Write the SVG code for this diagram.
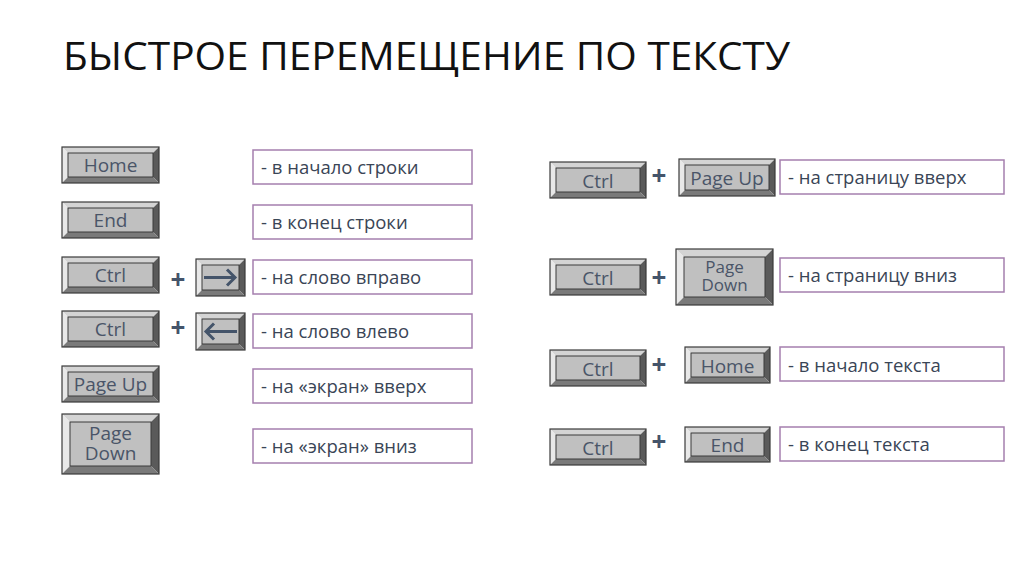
<svg xmlns="http://www.w3.org/2000/svg" width="1024" height="574" viewBox="0 0 1024 574">
<defs>
<style>
.title{font-family:"Open Sans","Liberation Sans",sans-serif;font-size:38px;fill:#111}
.kt{font-family:"Open Sans","Liberation Sans",sans-serif;font-size:19px;fill:#4a5568;text-anchor:middle}
.kt2{font-family:"Open Sans","Liberation Sans",sans-serif;font-size:17px;fill:#4a5568;text-anchor:middle}
.dt{font-family:"Open Sans","Liberation Sans",sans-serif;font-size:18.5px;fill:#3a4556}
.box{fill:#fff;stroke:#a57fae;stroke-width:1.5}
.ol{fill:none;stroke:#3a3a3a;stroke-width:1.2}
.bt{fill:#d4d4d4}.bl{fill:#e8e8e8}.br{fill:#5a5a5a}.bb{fill:#7a7a7a}
.face{fill:#c0c0c0;stroke:#3a3a3a;stroke-width:1}
.plus{font-family:"Open Sans","Liberation Sans",sans-serif;font-size:26px;font-weight:bold;fill:#44546a;text-anchor:middle}
.arr{stroke:#44546a;stroke-width:3;fill:none}
</style>
</defs>
<text class="title" x="63" y="70" textLength="727" lengthAdjust="spacingAndGlyphs">БЫСТРОЕ ПЕРЕМЕЩЕНИЕ ПО ТЕКСТУ</text>

<!-- Left keys -->
<g id="key-home" transform="translate(62,147)">
<polygon class="bt" points="0,0 97,0 91,6 6,6"/><polygon class="bl" points="0,0 6,6 6,30 0,36"/><polygon class="br" points="97,0 97,36 91,30 91,6"/><polygon class="bb" points="0,36 97,36 91,30 6,30"/>
<rect class="face" x="6" y="6" width="85" height="24"/><rect class="ol" x="0" y="0" width="97" height="36"/>
<text class="kt" x="48.5" y="25">Home</text></g>
<g id="key-end" transform="translate(62,202)">
<polygon class="bt" points="0,0 97,0 91,6 6,6"/><polygon class="bl" points="0,0 6,6 6,30 0,36"/><polygon class="br" points="97,0 97,36 91,30 91,6"/><polygon class="bb" points="0,36 97,36 91,30 6,30"/>
<rect class="face" x="6" y="6" width="85" height="24"/><rect class="ol" x="0" y="0" width="97" height="36"/>
<text class="kt" x="48.5" y="25">End</text></g>
<g id="key-ctrl1" transform="translate(62,257)">
<polygon class="bt" points="0,0 97,0 91,6 6,6"/><polygon class="bl" points="0,0 6,6 6,30 0,36"/><polygon class="br" points="97,0 97,36 91,30 91,6"/><polygon class="bb" points="0,36 97,36 91,30 6,30"/>
<rect class="face" x="6" y="6" width="85" height="24"/><rect class="ol" x="0" y="0" width="97" height="36"/>
<text class="kt" x="48.5" y="25">Ctrl</text></g>
<g id="key-ctrl2" transform="translate(62,311)">
<polygon class="bt" points="0,0 97,0 91,6 6,6"/><polygon class="bl" points="0,0 6,6 6,30 0,36"/><polygon class="br" points="97,0 97,36 91,30 91,6"/><polygon class="bb" points="0,36 97,36 91,30 6,30"/>
<rect class="face" x="6" y="6" width="85" height="24"/><rect class="ol" x="0" y="0" width="97" height="36"/>
<text class="kt" x="48.5" y="25">Ctrl</text></g>
<g id="key-pgup" transform="translate(62,366)">
<polygon class="bt" points="0,0 97,0 91,6 6,6"/><polygon class="bl" points="0,0 6,6 6,30 0,36"/><polygon class="br" points="97,0 97,36 91,30 91,6"/><polygon class="bb" points="0,36 97,36 91,30 6,30"/>
<rect class="face" x="6" y="6" width="85" height="24"/><rect class="ol" x="0" y="0" width="97" height="36"/>
<text class="kt" x="48.5" y="25">Page Up</text></g>
<g id="key-pgdn" transform="translate(62,414)">
<polygon class="bt" points="0,0 97,0 89,8 8,8"/><polygon class="bl" points="0,0 8,8 8,52 0,60"/><polygon class="br" points="97,0 97,60 89,52 89,8"/><polygon class="bb" points="0,60 97,60 89,52 8,52"/>
<rect class="face" x="8" y="8" width="81" height="44"/><rect class="ol" x="0" y="0" width="97" height="60"/>
<text class="kt" x="48.5" y="26">Page</text><text class="kt" x="48.5" y="46">Down</text></g>

<g id="key-right" transform="translate(196,259)">
<polygon class="bt" points="0,0 49,0 43,6 6,6"/><polygon class="bl" points="0,0 6,6 6,31 0,37"/><polygon class="br" points="49,0 49,37 43,31 43,6"/><polygon class="bb" points="0,37 49,37 43,31 6,31"/>
<rect class="face" x="6" y="6" width="37" height="25"/><rect class="ol" x="0" y="0" width="49" height="37"/>
<path class="arr" d="M8,18.5 H39 M31,10.5 L39,18.5 L31,26.5"/></g>
<g id="key-left" transform="translate(196,313)">
<polygon class="bt" points="0,0 49,0 43,6 6,6"/><polygon class="bl" points="0,0 6,6 6,31 0,37"/><polygon class="br" points="49,0 49,37 43,31 43,6"/><polygon class="bb" points="0,37 49,37 43,31 6,31"/>
<rect class="face" x="6" y="6" width="37" height="25"/><rect class="ol" x="0" y="0" width="49" height="37"/>
<path class="arr" d="M41,18.5 H10 M18,10.5 L10,18.5 L18,26.5"/></g>

<text class="plus" x="178" y="289">+</text>
<text class="plus" x="178" y="337">+</text>

<!-- Left descriptions -->
<g id="d1"><rect class="box" x="253" y="150" width="219" height="34"/><text class="dt" x="261" y="174">- в начало строки</text></g>
<g id="d2"><rect class="box" x="253" y="205" width="219" height="34"/><text class="dt" x="261" y="229">- в конец строки</text></g>
<g id="d3"><rect class="box" x="253" y="260" width="219" height="34"/><text class="dt" x="261" y="284">- на слово вправо</text></g>
<g id="d4"><rect class="box" x="253" y="314" width="219" height="34"/><text class="dt" x="261" y="338">- на слово влево</text></g>
<g id="d5"><rect class="box" x="253" y="369" width="219" height="34"/><text class="dt" x="261" y="393">- на «экран» вверх</text></g>
<g id="d6"><rect class="box" x="253" y="429" width="219" height="34"/><text class="dt" x="261" y="453">- на «экран» вниз</text></g>

<!-- Right keys -->
<g id="key-rctrl1" transform="translate(550,162)">
<polygon class="bt" points="0,0 96,0 90,6 6,6"/><polygon class="bl" points="0,0 6,6 6,30 0,36"/><polygon class="br" points="96,0 96,36 90,30 90,6"/><polygon class="bb" points="0,36 96,36 90,30 6,30"/>
<rect class="face" x="6" y="6" width="84" height="24"/><rect class="ol" x="0" y="0" width="96" height="36"/>
<text class="kt" x="48" y="26">Ctrl</text></g>
<g id="key-rctrl2" transform="translate(550,259)">
<polygon class="bt" points="0,0 96,0 90,6 6,6"/><polygon class="bl" points="0,0 6,6 6,30 0,36"/><polygon class="br" points="96,0 96,36 90,30 90,6"/><polygon class="bb" points="0,36 96,36 90,30 6,30"/>
<rect class="face" x="6" y="6" width="84" height="24"/><rect class="ol" x="0" y="0" width="96" height="36"/>
<text class="kt" x="48" y="26">Ctrl</text></g>
<g id="key-rctrl3" transform="translate(550,350)">
<polygon class="bt" points="0,0 96,0 90,6 6,6"/><polygon class="bl" points="0,0 6,6 6,30 0,36"/><polygon class="br" points="96,0 96,36 90,30 90,6"/><polygon class="bb" points="0,36 96,36 90,30 6,30"/>
<rect class="face" x="6" y="6" width="84" height="24"/><rect class="ol" x="0" y="0" width="96" height="36"/>
<text class="kt" x="48" y="26">Ctrl</text></g>
<g id="key-rctrl4" transform="translate(550,429)">
<polygon class="bt" points="0,0 96,0 90,6 6,6"/><polygon class="bl" points="0,0 6,6 6,30 0,36"/><polygon class="br" points="96,0 96,36 90,30 90,6"/><polygon class="bb" points="0,36 96,36 90,30 6,30"/>
<rect class="face" x="6" y="6" width="84" height="24"/><rect class="ol" x="0" y="0" width="96" height="36"/>
<text class="kt" x="48" y="26">Ctrl</text></g>

<text class="plus" x="659" y="185">+</text>
<text class="plus" x="659" y="287">+</text>
<text class="plus" x="659" y="374">+</text>
<text class="plus" x="659" y="451">+</text>

<g id="key-rpgup" transform="translate(679,159)">
<polygon class="bt" points="0,0 96,0 90,6 6,6"/><polygon class="bl" points="0,0 6,6 6,31 0,37"/><polygon class="br" points="96,0 96,37 90,31 90,6"/><polygon class="bb" points="0,37 96,37 90,31 6,31"/>
<rect class="face" x="6" y="6" width="84" height="25"/><rect class="ol" x="0" y="0" width="96" height="37"/>
<text class="kt" x="48" y="26">Page Up</text></g>
<g id="key-rpgdn" transform="translate(676,249)">
<polygon class="bt" points="0,0 97,0 89,8 8,8"/><polygon class="bl" points="0,0 8,8 8,48 0,56"/><polygon class="br" points="97,0 97,56 89,48 89,8"/><polygon class="bb" points="0,56 97,56 89,48 8,48"/>
<rect class="face" x="8" y="8" width="81" height="40"/><rect class="ol" x="0" y="0" width="97" height="56"/>
<text class="kt2" x="48.5" y="24">Page</text><text class="kt2" x="48.5" y="42">Down</text></g>
<g id="key-rhome" transform="translate(685,347)">
<polygon class="bt" points="0,0 85,0 79,6 6,6"/><polygon class="bl" points="0,0 6,6 6,30 0,36"/><polygon class="br" points="85,0 85,36 79,30 79,6"/><polygon class="bb" points="0,36 85,36 79,30 6,30"/>
<rect class="face" x="6" y="6" width="73" height="24"/><rect class="ol" x="0" y="0" width="85" height="36"/>
<text class="kt" x="42.5" y="26">Home</text></g>
<g id="key-rend" transform="translate(685,427)">
<polygon class="bt" points="0,0 85,0 79,6 6,6"/><polygon class="bl" points="0,0 6,6 6,29 0,35"/><polygon class="br" points="85,0 85,35 79,29 79,6"/><polygon class="bb" points="0,35 85,35 79,29 6,29"/>
<rect class="face" x="6" y="6" width="73" height="23"/><rect class="ol" x="0" y="0" width="85" height="35"/>
<text class="kt" x="42.5" y="25">End</text></g>

<!-- Right descriptions -->
<g id="r1"><rect class="box" x="780" y="160" width="224" height="34"/><text class="dt" x="788" y="184">- на страницу вверх</text></g>
<g id="r2"><rect class="box" x="780" y="258" width="224" height="34"/><text class="dt" x="788" y="282">- на страницу вниз</text></g>
<g id="r3"><rect class="box" x="780" y="347" width="224" height="34"/><text class="dt" x="788" y="372">- в  начало текста</text></g>
<g id="r4"><rect class="box" x="780" y="427" width="224" height="34"/><text class="dt" x="788" y="451">- в конец текста</text></g>
<g id="connectors"></g>
</svg>
